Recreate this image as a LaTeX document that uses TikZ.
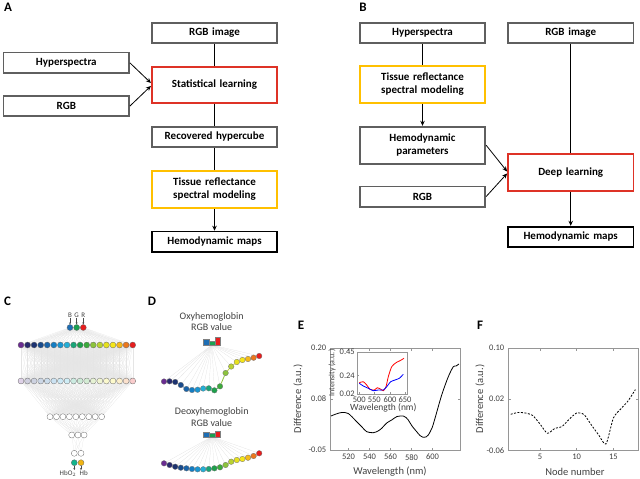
\documentclass[tikz,border=0pt]{standalone}
\usepackage{fontspec}
\setmainfont{Carlito}
\usepackage{tikz}
\usetikzlibrary{arrows.meta, positioning, backgrounds}

\definecolor{boxgray}{RGB}{95,95,95}
\definecolor{redline}{RGB}{222,50,38}
\definecolor{yellowline}{RGB}{255,192,0}
\definecolor{axisgray}{RGB}{150,150,150}
\definecolor{textgray}{RGB}{64,64,64}
% spectrum colours, one per node
\definecolor{sp1}{RGB}{106,44,145}
\definecolor{sp2}{RGB}{40,42,110}
\definecolor{sp3}{RGB}{28,50,112}
\definecolor{sp4}{RGB}{25,75,140}
\definecolor{sp5}{RGB}{25,100,170}
\definecolor{sp6}{RGB}{20,125,195}
\definecolor{sp7}{RGB}{25,150,210}
\definecolor{sp8}{RGB}{35,175,215}
\definecolor{sp9}{RGB}{25,165,120}
\definecolor{sp10}{RGB}{30,160,75}
\definecolor{sp11}{RGB}{60,170,60}
\definecolor{sp12}{RGB}{140,195,60}
\definecolor{sp13}{RGB}{185,210,50}
\definecolor{sp14}{RGB}{230,225,30}
\definecolor{sp15}{RGB}{245,230,25}
\definecolor{sp16}{RGB}{245,185,25}
\definecolor{sp17}{RGB}{235,120,30}
\definecolor{sp18}{RGB}{230,30,30}
\definecolor{chanB}{RGB}{30,110,180}
\definecolor{chanG}{RGB}{25,160,80}
\definecolor{chanR}{RGB}{230,30,30}
\definecolor{outHbO}{RGB}{20,180,140}
\definecolor{outHb}{RGB}{240,180,20}

\begin{document}
\begin{tikzpicture}[
        x=1pt, y=-1pt,
        node distance=22pt,
        box/.style={rectangle, draw=boxgray, line width=1.7pt, fill=white, text width=119.5pt, align=center, minimum height=20.5pt, inner xsep=3pt, inner ysep=2pt, font=\fontsize{11}{13}\selectfont\bfseries},
        tallbox/.style={box, minimum height=37pt},
        arrow/.style={line width=0.8pt,-{Stealth[length=5pt,width=4.5pt]}},
        line/.style={line width=0.8pt},
        panel/.style={font=\fontsize{13}{15}\selectfont\bfseries, inner sep=0pt},
        neuron/.style={circle, draw=black!60, line width=0.3pt, inner sep=0pt, minimum size=6pt},
        dot/.style={circle, draw=black!55, line width=0.3pt, inner sep=0pt, minimum size=5.6pt},
        synapse/.style={draw=black!10, line width=0.2pt},
        bar/.style={rectangle, draw=black!50, line width=0.2pt, inner sep=0pt, minimum width=5.8pt, anchor=south},
        tiny/.style={font=\fontsize{7}{8}\selectfont, text=textgray, inner sep=0.5pt},
        tinyarrow/.style={line width=0.4pt, -{Stealth[length=2pt,width=2pt]}, black!70},
        caption/.style={font=\fontsize{10}{11.5}\selectfont, text=textgray, inner sep=0pt, align=center},
        axlabel/.style={font=\fontsize{10.5}{12}\selectfont, text=textgray, inner sep=0pt},
        ticklabel/.style={font=\fontsize{8.5}{10}\selectfont, text=textgray, inner sep=0pt},
        axisbox/.style={draw=axisgray, line width=0.5pt}
    ]
        \useasboundingbox (0,0) rectangle (640,479);

        % Panel A
        \node[panel] (labA) at (8,7) {A};
        \node[box] (rgbimgA) at (214.5,33) {RGB image};
        \node[box, draw=redline, minimum height=36pt, below=of rgbimgA] (statlearn) {Statistical learning};
        \node[box, below=of statlearn] (hypercube) {Recovered hypercube};
        \node[tallbox, draw=yellowline, below=of hypercube] (tissueA) {Tissue reflectance\\spectral modeling};
        \node[box, draw=black, below=of tissueA] (mapsA) {Hemodynamic maps};
        \node[box, above left=11pt and 21pt of statlearn.west] (hyperA) {Hyperspectra};
        \node[box, below left=10pt and 21pt of statlearn.west] (rgbA) {RGB};

        \draw[line] (rgbimgA) -- (statlearn);
        \draw[line] (statlearn) -- (hypercube);
        \draw[line] (hypercube) -- (tissueA);
        \draw[arrow] (tissueA) -- (mapsA);
        \draw[arrow] (hyperA.east) -- ([yshift=2pt]statlearn.west);
        \draw[arrow] (rgbA.east) -- ([yshift=-1pt]statlearn.west);

        % Panel B
        \node[panel] (labB) at (363,7) {B};
        \node[box] (hyperB) at (422.5,33) {Hyperspectra};
        \node[box, right=21pt of hyperB] (rgbimgB) {RGB image};
        \node[tallbox, draw=yellowline, below=21pt of hyperB] (tissueB) {Tissue reflectance\\spectral modeling};
        \node[tallbox, below=of tissueB] (params) {Hemodynamic\\parameters};
        \node[box, below=21pt of params] (rgbB) {RGB};
        \node[tallbox, draw=redline, below=109pt of rgbimgB] (deeplearn) {Deep learning};
        \node[box, draw=black, below=34pt of deeplearn] (mapsB) {Hemodynamic maps};

        \draw[line] (hyperB) -- (tissueB);
        \draw[arrow] (tissueB) -- (params);
        \draw[line] (rgbimgB) -- (deeplearn);
        \draw[arrow] (params.east) -- ([yshift=1pt]deeplearn.west);
        \draw[arrow] (rgbB.east) -- ([yshift=-1pt]deeplearn.west);
        \draw[arrow] (deeplearn) -- (mapsB);

        % Panel C: network
        \node[panel] (labC) at (7.5,301.5) {C};
        \foreach \c [count=\i] in {chanB, chanG, chanR}
            \node[neuron, fill=\c] (in\i) at ({70+6.65*(\i-1)},327.5) {};
        \foreach \t [count=\i] in {B, G, R} {
            \node[tiny] (lbl\t) at ({70+6.65*(\i-1)},315.5) {\t};
            \draw[tinyarrow] (lbl\t) -- (in\i);
        }
        \foreach \i in {1,...,18} {
            \node[neuron, fill=sp\i] (hida\i) at ({21+6.57*(\i-1)},345) {};
            \node[neuron, fill=sp\i!22] (hidb\i) at ({21+6.57*(\i-1)},381) {};
        }
        \foreach \i in {1,...,9}
            \node[neuron, fill=white] (hidc\i) at ({50+6.46*(\i-1)},416.7) {};
        \foreach \i in {1,2,3}
            \node[neuron, fill=white] (hidd\i) at ({71.7+6.2*(\i-1)},435) {};
        \foreach \i in {1,2}
            \node[neuron, fill=white] (hide\i) at ({74.3+6.7*(\i-1)},453.3) {};
        \node[neuron, fill=outHbO] (out1) at (74.3,462.7) {};
        \node[neuron, fill=outHb] (out2) at (81,462.7) {};
        \node[tiny, anchor=north east] (hbo) at (77,470) {HbO$_2$};
        \node[tiny, anchor=north west] (hb) at (79,470) {Hb};
        \draw[tinyarrow] (out1) -- (out1 |- hbo.north);
        \draw[tinyarrow] (out2) -- (out2 |- hb.north);

        \begin{scope}[on background layer]
            \foreach \i in {1,2,3}
                \foreach \j in {1,...,18}
                    \draw[synapse] (in\i) -- (hida\j);
            \foreach \i in {1,...,18}
                \foreach \j in {1,...,18}
                    \draw[synapse] (hida\i) -- (hidb\j);
            \foreach \i in {1,...,18}
                \foreach \j in {1,...,9}
                    \draw[synapse] (hidb\i) -- (hidc\j);
            \foreach \i in {1,...,9}
                \foreach \j in {1,2,3}
                    \draw[synapse] (hidc\i) -- (hidd\j);
            \foreach \i in {1,2,3}
                \foreach \j in {1,2}
                    \draw[synapse] (hidd\i) -- (hide\j);
        \end{scope}

        % Panel D: RGB value of each node
        \node[panel] (labD) at (152,301) {D};
        \node[caption] (oxytxt) at (211.7,321.5) {Oxyhemoglobin\\RGB value};
        \node[bar, fill=chanB, minimum height=6pt] (oxyB) at (206,345) {};
        \node[bar, fill=chanG, minimum height=4pt] (oxyG) at (211.8,345) {};
        \node[bar, fill=chanR, minimum height=8.3pt] (oxyR) at (217.6,345) {};
        \coordinate (oxyhub) at (211.8,345);
        \foreach \y [count=\i] in {381.5,381.3,382,385,389,390,389.7,388.5,388.3,390.3,386.3,373,366.5,362,360,359,357.7,356}
            \node[dot, fill=sp\i] (oxy\i) at ({164+5.6*(\i-1)},\y) {};

        \node[caption] (deoxytxt) at (211.7,417) {Deoxyhemoglobin\\RGB value};
        \node[bar, fill=chanB, minimum height=5pt] (deoxyB) at (206,436.7) {};
        \node[bar, fill=chanG, minimum height=4pt] (deoxyG) at (211.8,436.7) {};
        \node[bar, fill=chanR, minimum height=5.7pt] (deoxyR) at (217.6,436.7) {};
        \coordinate (deoxyhub) at (211.8,436.7);
        \foreach \y [count=\i] in {463.3,465,466.7,467.7,468.3,469,469.3,469.3,469,468.3,467.3,465,461.7,460,459,457.7,456,453.3}
            \node[dot, fill=sp\i] (deoxy\i) at ({164+5.6*(\i-1)},\y) {};

        \begin{scope}[on background layer]
            \foreach \i in {1,...,18} {
                \draw[synapse, draw=black!13] (oxyhub) -- (oxy\i);
                \draw[synapse, draw=black!13] (deoxyhub) -- (deoxy\i);
            }
            \foreach \i [evaluate=\i as \j using int(\i+1)] in {1,...,17} {
                \draw[sp\j, line width=0.8pt] (oxy\i) -- (oxy\j);
                \draw[sp\j, line width=0.8pt] (deoxy\i) -- (deoxy\j);
            }
        \end{scope}

        % Panel E: spectral difference
        \node[panel] (labE) at (301,325) {E};
        \draw[axisbox] (330,348) rectangle (460,450);
        \foreach \x/\t in {348.5/520, 369.5/540, 390.5/560, 411.5/580, 432.5/600} {
            \draw[axisbox] (\x,450) -- (\x,447.5);
            \draw[axisbox] (\x,348) -- (\x,350.5);
            \node[ticklabel, anchor=north] at (\x,454) {\t};
        }
        \foreach \y/\t in {348/0.20, 399/0.08, 450/-0.05} {
            \draw[axisbox] (330,\y) -- (332.5,\y);
            \draw[axisbox] (460,\y) -- (457.5,\y);
            \node[ticklabel, anchor=east] at (326.5,\y) {\t};
        }
        \node[axlabel] at (390,471.5) {Wavelength (nm)};
        \node[axlabel, rotate=90] at (298,399) {Difference (a.u.)};
        \draw[black, line width=0.8pt] plot[smooth, tension=0.5] coordinates {(331,416) (336,414) (341.7,412.5) (348.3,413.5) (356.7,421.7) (362,427) (366.7,431.7) (373.3,432.7) (378,431) (381.7,428.3) (386.7,423) (391.7,420) (397,416.5) (403.3,416) (406,417.5) (408.3,420) (412,426) (416.7,431.7) (420,435.5) (423.3,437.3) (426,437) (428.3,435) (432,428) (435,418.3) (441.7,395) (448.3,376.7) (453.3,366.7) (456,366) (459,364)};

        % inset
        \draw[axisbox, fill=white] (357,352) rectangle (407,394);
        \foreach \x/\t in {359.3/500, 374.3/550, 390/600, 405/650} {
            \draw[axisbox] (\x,394) -- (\x,392);
            \node[ticklabel, anchor=north] at (\x,397) {\t};
        }
        \foreach \y/\t in {352/0.45, 375.7/0.24, 394/0.02} {
            \draw[axisbox] (357,\y) -- (359,\y);
            \node[ticklabel, anchor=east] at (355,\y) {\t};
        }
        \node[axlabel, font=\fontsize{9.5}{11}\selectfont] at (383.3,408.3) {Wavelength (nm)};
        \node[axlabel, font=\fontsize{8}{9.5}\selectfont, rotate=90] at (332,373) {Intensity (a.u.)};
        \draw[red, line width=0.8pt] plot[smooth, tension=0.4] coordinates {(359.3,382.7) (363.3,381.7) (366.7,385) (370,389.3) (374.3,390) (377.3,387.7) (380,388.7) (383.3,390.7) (386,386.7) (388.3,376.7) (391.7,366.7) (396,362.7) (400,360.7) (404,358.3)};
        \draw[blue, line width=0.8pt] plot[smooth, tension=0.4] coordinates {(359.3,383.3) (363.3,386) (368.3,388.3) (373.3,390.7) (378.3,390) (383.3,390) (386.7,386.7) (390.7,381.7) (395,380) (399.3,378.3) (403.3,374.3)};

        % Panel F: difference per node
        \node[panel] (labF) at (480,325) {F};
        \draw[axisbox] (508,348) rectangle (638.5,450.5);
        \foreach \x/\t in {540/5, 576.7/10, 613.4/15} {
            \draw[axisbox] (\x,450.5) -- (\x,448);
            \draw[axisbox] (\x,348) -- (\x,350.5);
            \node[ticklabel, anchor=north] at (\x,454) {\t};
        }
        \foreach \y/\t in {348/0.10, 399/0.02, 450.5/-0.06} {
            \draw[axisbox] (508,\y) -- (510.5,\y);
            \draw[axisbox] (638.5,\y) -- (636,\y);
            \node[ticklabel, anchor=east] at (504.5,\y) {\t};
        }
        \node[axlabel] at (575,471.5) {Node number};
        \node[axlabel, rotate=90] at (480,399) {Difference (a.u.)};
        \draw[black, line width=0.8pt, dash pattern=on 2pt off 1.5pt] plot[smooth, tension=0.4] coordinates {(510.7,414.3) (518,412.5) (525.4,413) (532.7,415.5) (540,424) (547.4,433.3) (554.7,428.5) (562,426.5) (569.4,419) (576.7,413) (584,414.5) (591.4,425) (598.7,435) (606,444) (613.4,418) (620.7,409) (628,401) (635.4,389.5)};
    \end{tikzpicture}
\end{document}
